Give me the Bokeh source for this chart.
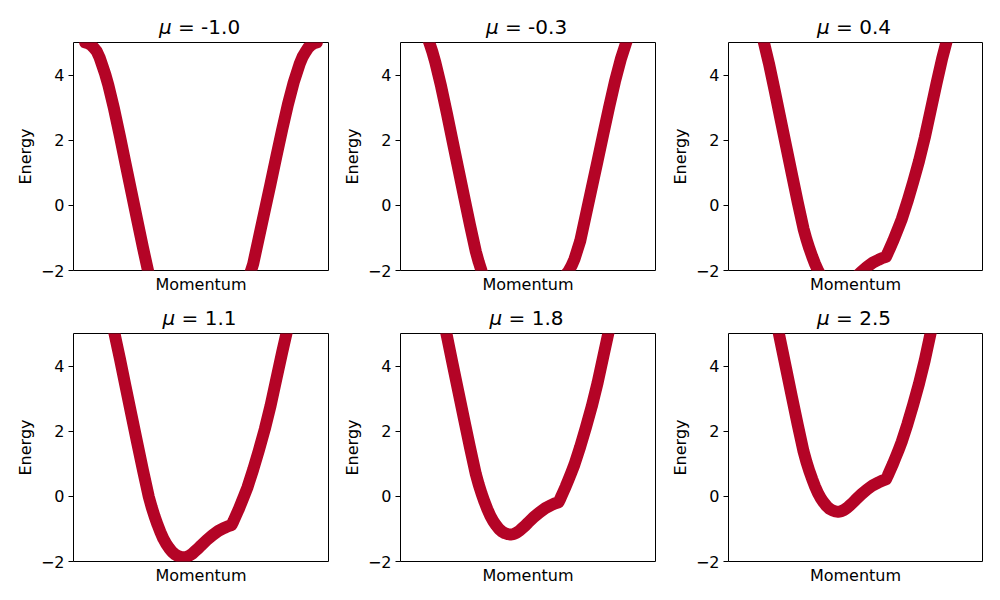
from bokeh.plotting import figure
from bokeh.models import Range1d, FixedTicker, Div
from bokeh.layouts import column, row
from bokeh.embed import file_html
from bokeh.resources import INLINE

# ---------------- data ----------------
momentum = [0.0, 0.0125, 0.025, 0.0375, 0.05, 0.0625, 0.075, 0.0875, 0.1,
            0.125, 0.15, 0.175, 0.2, 0.225, 0.25, 0.275,
            0.2875, 0.3, 0.3125, 0.325, 0.3375, 0.35, 0.3625, 0.375, 0.3875,
            0.4, 0.4125, 0.425, 0.4375, 0.45, 0.4625, 0.475, 0.4875, 0.5,
            0.525, 0.55, 0.575, 0.6, 0.615, 0.632,
            0.64, 0.65, 0.6625, 0.675, 0.6875, 0.7,
            0.725, 0.75, 0.775, 0.8, 0.825, 0.85, 0.875, 0.9, 0.925,
            0.9375, 0.95, 0.9625, 0.975, 0.9875, 1.0]

mu_values = [-1.0, -0.3, 0.4, 1.1, 1.8, 2.5]

energy_mu_m1_0 = [5.00, 4.98, 4.93, 4.84, 4.73, 4.54, 4.28, 4.01, 3.70,
                  2.96, 2.13, 1.26, 0.40, -0.46, -1.31, -2.12,
                  -2.44, -2.72, -2.97, -3.20, -3.40, -3.56, -3.69, -3.80, -3.88,
                  -3.93, -3.96, -3.97, -3.96, -3.92, -3.86, -3.78, -3.70, -3.61,
                  -3.44, -3.29, -3.16, -3.07, -3.02, -2.98,
                  -2.95, -2.90, -2.83, -2.72, -2.56, -2.36,
                  -1.80, -0.98, -0.16, 0.66, 1.50, 2.32, 3.10, 3.78, 4.33,
                  4.55, 4.70, 4.84, 4.92, 4.98, 5.00]
energy_mu_m0_3 = [5.70, 5.68, 5.63, 5.54, 5.43, 5.24, 4.98, 4.71, 4.40,
                  3.66, 2.83, 1.96, 1.10, 0.24, -0.61, -1.42,
                  -1.74, -2.02, -2.27, -2.50, -2.70, -2.86, -2.99, -3.10, -3.18,
                  -3.23, -3.26, -3.27, -3.26, -3.22, -3.16, -3.08, -3.00, -2.91,
                  -2.74, -2.59, -2.46, -2.37, -2.32, -2.28,
                  -2.25, -2.20, -2.13, -2.02, -1.86, -1.66,
                  -1.10, -0.28, 0.54, 1.36, 2.20, 3.02, 3.80, 4.48, 5.03,
                  5.25, 5.40, 5.54, 5.62, 5.68, 5.70]
energy_mu_0_4 = [6.40, 6.38, 6.33, 6.24, 6.13, 5.94, 5.68, 5.41, 5.10,
                 4.36, 3.53, 2.66, 1.80, 0.94, 0.09, -0.72,
                 -1.04, -1.32, -1.57, -1.80, -2.00, -2.16, -2.29, -2.40, -2.48,
                 -2.53, -2.56, -2.57, -2.56, -2.52, -2.46, -2.38, -2.30, -2.21,
                 -2.04, -1.89, -1.76, -1.67, -1.62, -1.58,
                 -1.46, -1.30, -1.10, -0.88, -0.66, -0.43,
                 0.12, 0.72, 1.36, 2.08, 2.90, 3.72, 4.50, 5.18, 5.73,
                 5.95, 6.10, 6.24, 6.32, 6.38, 6.40]
energy_mu_1_1 = [7.10, 7.08, 7.03, 6.94, 6.83, 6.64, 6.38, 6.11, 5.80,
                 5.06, 4.23, 3.36, 2.50, 1.64, 0.79, -0.02,
                 -0.34, -0.62, -0.87, -1.10, -1.30, -1.46, -1.59, -1.70, -1.78,
                 -1.83, -1.86, -1.87, -1.86, -1.82, -1.76, -1.68, -1.60, -1.51,
                 -1.34, -1.19, -1.06, -0.97, -0.92, -0.88,
                 -0.76, -0.60, -0.40, -0.18, 0.04, 0.27,
                 0.82, 1.42, 2.06, 2.78, 3.60, 4.42, 5.20, 5.88, 6.43,
                 6.65, 6.80, 6.94, 7.02, 7.08, 7.10]
energy_mu_1_8 = [7.80, 7.78, 7.73, 7.64, 7.53, 7.34, 7.08, 6.81, 6.50,
                 5.76, 4.93, 4.06, 3.20, 2.34, 1.49, 0.68,
                 0.36, 0.08, -0.17, -0.40, -0.60, -0.76, -0.89, -1.00, -1.08,
                 -1.13, -1.16, -1.17, -1.16, -1.12, -1.06, -0.98, -0.90, -0.81,
                 -0.64, -0.49, -0.36, -0.27, -0.22, -0.18,
                 -0.06, 0.10, 0.30, 0.52, 0.74, 0.97,
                 1.52, 2.12, 2.76, 3.48, 4.30, 5.12, 5.90, 6.58, 7.13,
                 7.35, 7.50, 7.64, 7.72, 7.78, 7.80]
energy_mu_2_5 = [8.50, 8.48, 8.43, 8.34, 8.23, 8.04, 7.78, 7.51, 7.20,
                 6.46, 5.63, 4.76, 3.90, 3.04, 2.19, 1.38,
                 1.06, 0.78, 0.53, 0.30, 0.10, -0.06, -0.19, -0.30, -0.38,
                 -0.43, -0.46, -0.47, -0.46, -0.42, -0.36, -0.28, -0.20, -0.11,
                 0.06, 0.21, 0.34, 0.43, 0.48, 0.52,
                 0.64, 0.80, 1.00, 1.22, 1.44, 1.67,
                 2.22, 2.82, 3.46, 4.18, 5.00, 5.82, 6.60, 7.28, 7.83,
                 8.05, 8.20, 8.34, 8.42, 8.48, 8.50]

energies = [energy_mu_m1_0, energy_mu_m0_3, energy_mu_0_4,
            energy_mu_1_1, energy_mu_1_8, energy_mu_2_5]

y_ticks = [-2, 0, 2, 4]
y_tick_labels = {-2: "\u22122", 0: "0", 2: "2", 4: "4"}
title_values = ["-1.0", "-0.3", "0.4", "1.1", "1.8", "2.5"]

# ---------------- styling / layout ----------------
FONT = "DejaVu Sans"
RED = "#b40426"

left_borders = [73, 71, 72]
frame_widths = [255, 255, 254]
right_borders = [1, 1, 2]
FRAME_H = 228
# per row: (title strip height, title padding-top, figure top border, figure bottom border)
row_specs = [(40, 17, 2, 30), (31, 8, 2, 39)]


def make_title(i):
    r, c = divmod(i, 3)
    strip_h, pad_top, _, _ = row_specs[r]
    w = left_borders[c] + frame_widths[c] + right_borders[c]
    html = (
        f'<div style="margin:0;margin-left:{left_borders[c] - 1}px;width:{frame_widths[c]}px;'
        f'padding-top:{pad_top}px;text-align:center;font-family:\'{FONT}\';'
        f'font-size:20px;line-height:20px;color:black;white-space:nowrap;">'
        f'<i>\u03bc</i> = {title_values[i]}</div>'
    )
    return Div(text=html, width=w, height=strip_h, margin=0)


def make_panel(i):
    r, c = divmod(i, 3)
    _, _, top, bottom = row_specs[r]
    p = figure(frame_width=frame_widths[c], frame_height=FRAME_H,
               x_range=Range1d(-0.05, 1.05), y_range=Range1d(-2, 5),
               output_backend="svg", toolbar_location=None,
               min_border_left=left_borders[c], min_border_right=right_borders[c],
               min_border_top=top, min_border_bottom=bottom)
    p.background_fill_color = "white"
    p.border_fill_color = "white"
    p.outline_line_color = "black"
    p.outline_line_width = 1
    p.grid.visible = False

    p.line(momentum, energies[i], line_color=RED, line_width=12,
           line_cap="round", line_join="round")

    ya = p.yaxis[0]
    ya.ticker = FixedTicker(ticks=y_ticks)
    ya.major_label_overrides = y_tick_labels
    ya.major_label_text_font = FONT
    ya.major_label_text_font_size = "16px"
    ya.major_label_text_color = "black"
    ya.major_tick_out = 5
    ya.major_tick_in = 0
    ya.major_tick_line_color = "black"
    ya.minor_tick_out = 0
    ya.minor_tick_in = 0
    ya.axis_line_color = None
    ya.major_label_standoff = 4
    ya.axis_label = "Energy"
    ya.axis_label_text_font = FONT
    ya.axis_label_text_font_size = "16px"
    ya.axis_label_text_font_style = "normal"
    ya.axis_label_text_color = "black"
    ya.axis_label_standoff = 3

    xa = p.xaxis[0]
    xa.ticker = FixedTicker(ticks=[])
    xa.major_tick_out = 0
    xa.major_tick_in = 0
    xa.minor_tick_out = 0
    xa.minor_tick_in = 0
    xa.major_label_standoff = 0
    xa.axis_line_color = None
    xa.axis_label = "Momentum"
    xa.axis_label_text_font = FONT
    xa.axis_label_text_font_size = "16px"
    xa.axis_label_text_font_style = "normal"
    xa.axis_label_text_color = "black"
    xa.axis_label_standoff = 4
    return p


titles = [make_title(i) for i in range(6)]
panels = [make_panel(i) for i in range(6)]
layout = column(row(*titles[:3]), row(*panels[:3]),
                row(*titles[3:]), row(*panels[3:]))

open("out.html", "w").write(file_html(layout, INLINE))
